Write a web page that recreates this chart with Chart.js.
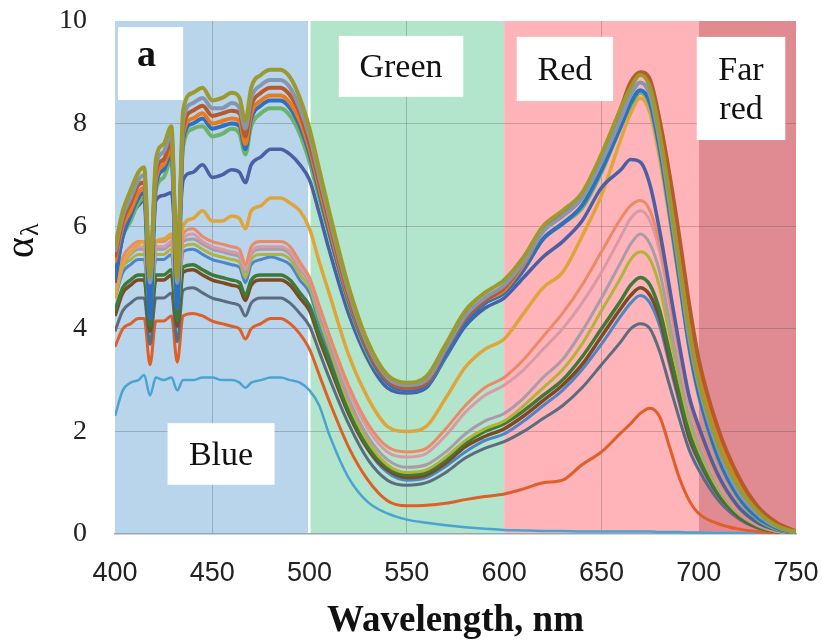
<!DOCTYPE html>
<html lang="en">
<head>
<meta charset="UTF-8">
<title>Spectral absorption</title>
<script src="https://cdn.jsdelivr.net/npm/chart.js"></script>
<style>
  body { margin: 0; background: #fff; }
  canvas { display: block; }
</style>
</head>
<body>
<canvas id="myChart" width="822" height="644"></canvas>
<script>
// wavelength grid (nm) shared by all curves
const wavelengths = [400, 404, 408, 412, 415, 418, 421, 425, 429, 432,
  435, 440, 445, 450, 455, 460, 464, 467, 470, 475,
  480, 485, 490, 495, 500, 505, 510, 520, 530, 540,
  550, 560, 570, 580, 590, 600, 610, 620, 630, 640,
  650, 660, 665, 670, 675, 680, 685, 690, 695, 700,
  710, 720, 730, 740, 750];

// alpha_lambda curves
const curve01 = [5.6, 6.3, 6.7, 7.05, 7.15, 5.0, 7.3, 7.6, 7.95, 5.0, 8.25, 8.6, 8.7, 8.45, 8.5, 8.6, 8.5, 8.05, 8.7, 8.95, 9.05, 9.05, 8.9, 8.5, 7.9, 7.1, 6.3, 4.83, 3.74, 3.1, 2.95, 3.07, 3.7, 4.35, 4.7, 4.95, 5.4, 6.0, 6.3, 6.65, 7.4, 8.3, 8.7, 8.95, 8.7, 7.8, 6.6, 5.3, 4.0, 3.0, 1.75, 0.95, 0.45, 0.16, 0.04];
const curve02 = [5.5, 6.2, 6.55, 6.9, 7.0, 4.9, 7.15, 7.45, 7.8, 4.9, 8.05, 8.4, 8.5, 8.3, 8.3, 8.4, 8.3, 7.9, 8.5, 8.75, 8.85, 8.85, 8.7, 8.3, 7.75, 6.97, 6.2, 4.74, 3.67, 3.05, 2.9, 3.0, 3.62, 4.25, 4.6, 4.85, 5.3, 5.9, 6.2, 6.55, 7.25, 8.1, 8.55, 8.8, 8.55, 7.65, 6.45, 5.15, 3.85, 2.9, 1.65, 0.85, 0.4, 0.14, 0.03];
const curve03 = [5.4, 6.1, 6.45, 6.8, 6.85, 5.1, 7.05, 7.3, 7.65, 5.2, 7.9, 8.25, 8.35, 8.15, 8.2, 8.25, 8.2, 7.75, 8.35, 8.6, 8.7, 8.7, 8.55, 8.2, 7.6, 6.85, 6.1, 4.65, 3.6, 3.0, 2.85, 2.95, 3.6, 4.2, 4.55, 4.8, 5.3, 5.95, 6.25, 6.6, 7.35, 8.3, 8.8, 9.0, 8.85, 8.05, 7.0, 5.8, 4.5, 3.4, 2.05, 1.15, 0.55, 0.22, 0.05];
const curve04 = [5.3, 6.0, 6.3, 6.65, 6.75, 5.0, 6.9, 7.2, 7.5, 5.1, 7.8, 8.1, 8.2, 8.0, 8.05, 8.1, 8.05, 7.6, 8.2, 8.45, 8.55, 8.55, 8.4, 8.05, 7.5, 6.75, 6.0, 4.6, 3.6, 3.0, 2.85, 2.95, 3.6, 4.2, 4.55, 4.75, 5.25, 5.9, 6.2, 6.55, 7.3, 8.2, 8.7, 8.95, 8.8, 8.0, 6.95, 5.7, 4.4, 3.3, 1.95, 1.05, 0.5, 0.2, 0.05];
const curve05 = [5.0, 5.8, 6.2, 6.55, 6.65, 4.2, 6.8, 7.1, 7.4, 4.4, 7.7, 8.0, 8.1, 7.9, 7.95, 8.0, 7.95, 7.5, 8.1, 8.35, 8.45, 8.45, 8.3, 7.95, 7.4, 6.65, 5.9, 4.55, 3.55, 2.95, 2.8, 2.9, 3.5, 4.1, 4.5, 4.7, 5.15, 5.75, 6.05, 6.4, 7.1, 7.95, 8.4, 8.65, 8.4, 7.5, 6.3, 5.0, 3.7, 2.75, 1.5, 0.75, 0.33, 0.12, 0.03];
const curve06 = [5.1, 5.8, 6.1, 6.45, 6.55, 5.0, 6.7, 6.95, 7.3, 5.5, 7.55, 7.9, 7.95, 7.75, 7.8, 7.9, 7.8, 7.4, 7.95, 8.2, 8.3, 8.3, 8.15, 7.8, 7.25, 6.55, 5.85, 4.5, 3.5, 2.95, 2.8, 2.9, 3.5, 4.15, 4.5, 4.7, 5.15, 5.75, 6.05, 6.35, 7.05, 7.95, 8.35, 8.6, 8.35, 7.45, 6.25, 4.95, 3.65, 2.7, 1.45, 0.72, 0.3, 0.1, 0.02];
const curve07 = [4.9, 5.8, 6.2, 6.4, 6.5, 5.0, 6.5, 6.6, 6.65, 5.5, 6.9, 7.05, 7.2, 6.95, 7.0, 7.1, 7.05, 6.85, 7.2, 7.35, 7.5, 7.5, 7.4, 7.2, 6.9, 6.25, 5.55, 4.3, 3.4, 2.85, 2.75, 2.85, 3.45, 4.05, 4.4, 4.6, 5.0, 5.4, 5.7, 6.1, 6.75, 7.1, 7.3, 7.25, 6.8, 5.9, 4.8, 3.7, 2.7, 2.1, 1.15, 0.55, 0.23, 0.08, 0.01];
const curve08 = [4.6, 5.25, 5.5, 5.65, 5.7, 4.45, 5.7, 5.75, 5.85, 4.8, 6.0, 6.15, 6.3, 6.1, 6.1, 6.2, 6.15, 5.95, 6.3, 6.4, 6.55, 6.55, 6.45, 6.3, 5.95, 5.3, 4.7, 3.5, 2.65, 2.1, 2.0, 2.1, 2.65, 3.25, 3.6, 3.8, 4.3, 4.8, 5.1, 5.8, 6.6, 7.7, 8.2, 8.5, 8.2, 7.3, 6.15, 4.9, 3.75, 2.8, 1.6, 0.85, 0.4, 0.15, 0.03];
const curve09 = [4.9, 5.4, 5.6, 5.7, 5.7, 4.55, 5.7, 5.7, 5.8, 4.65, 5.85, 5.95, 5.8, 5.7, 5.65, 5.6, 5.55, 5.25, 5.6, 5.7, 5.7, 5.7, 5.6, 5.3, 5.0, 4.45, 3.9, 2.9, 2.15, 1.7, 1.6, 1.67, 2.05, 2.5, 2.85, 3.05, 3.4, 3.85, 4.3, 4.85, 5.5, 6.15, 6.4, 6.5, 6.3, 5.65, 4.6, 3.55, 2.6, 1.95, 1.05, 0.5, 0.2, 0.07, 0.01];
const curve10 = [4.8, 5.3, 5.5, 5.6, 5.6, 4.5, 5.6, 5.6, 5.7, 4.6, 5.75, 5.85, 5.7, 5.6, 5.55, 5.5, 5.45, 5.15, 5.5, 5.6, 5.6, 5.6, 5.5, 5.2, 4.95, 4.4, 3.85, 2.8, 2.05, 1.6, 1.5, 1.57, 1.92, 2.37, 2.7, 2.9, 3.2, 3.6, 4.0, 4.5, 5.1, 5.8, 6.15, 6.3, 6.1, 5.5, 4.5, 3.45, 2.5, 1.9, 1.0, 0.47, 0.19, 0.06, 0.01];
const curve11 = [4.75, 5.25, 5.45, 5.55, 5.55, 4.45, 5.55, 5.55, 5.65, 4.55, 5.7, 5.75, 5.65, 5.55, 5.5, 5.45, 5.4, 5.1, 5.45, 5.55, 5.55, 5.55, 5.45, 5.15, 4.9, 4.3, 3.75, 2.65, 1.9, 1.45, 1.3, 1.35, 1.6, 1.95, 2.2, 2.35, 2.65, 3.05, 3.4, 3.95, 4.6, 5.3, 5.65, 5.85, 5.65, 5.1, 4.15, 3.2, 2.35, 1.75, 0.94, 0.44, 0.18, 0.06, 0.01];
const curve12 = [4.7, 5.2, 5.35, 5.45, 5.45, 4.35, 5.45, 5.45, 5.55, 4.45, 5.6, 5.65, 5.55, 5.45, 5.4, 5.35, 5.3, 5.0, 5.35, 5.45, 5.45, 5.45, 5.35, 5.05, 4.8, 4.2, 3.65, 2.55, 1.8, 1.35, 1.2, 1.25, 1.5, 1.82, 2.05, 2.2, 2.5, 2.85, 3.2, 3.7, 4.35, 5.0, 5.35, 5.5, 5.35, 4.8, 3.9, 3.0, 2.2, 1.65, 0.88, 0.41, 0.17, 0.05, 0.01];
const curve13 = [4.35, 4.8, 4.95, 5.05, 5.05, 4.05, 5.05, 5.05, 5.15, 4.15, 5.2, 5.25, 5.15, 5.05, 5.0, 4.95, 4.9, 4.65, 4.95, 5.05, 5.05, 5.05, 4.95, 4.7, 4.45, 3.9, 3.4, 2.4, 1.7, 1.3, 1.15, 1.2, 1.45, 1.77, 2.0, 2.15, 2.4, 2.7, 3.0, 3.45, 4.0, 4.55, 4.85, 5.0, 4.85, 4.35, 3.55, 2.75, 2.0, 1.5, 0.8, 0.38, 0.15, 0.05, 0.01];
const curve14 = [4.25, 4.7, 4.85, 4.95, 4.95, 3.95, 4.95, 4.95, 5.05, 4.05, 5.1, 5.15, 5.05, 4.95, 4.9, 4.85, 4.8, 4.55, 4.85, 4.95, 4.95, 4.95, 4.85, 4.6, 4.35, 3.8, 3.3, 2.35, 1.65, 1.25, 1.1, 1.15, 1.38, 1.7, 1.9, 2.05, 2.3, 2.6, 2.9, 3.3, 3.85, 4.4, 4.65, 4.8, 4.65, 4.2, 3.4, 2.65, 1.9, 1.45, 0.77, 0.36, 0.14, 0.05, 0.01];
const curve15 = [4.6, 5.1, 5.25, 5.35, 5.35, 4.3, 5.35, 5.35, 5.45, 4.4, 5.5, 5.55, 5.45, 5.35, 5.3, 5.25, 5.2, 4.9, 5.25, 5.35, 5.4, 5.35, 5.25, 4.95, 4.7, 4.1, 3.55, 2.45, 1.65, 1.2, 1.05, 1.1, 1.32, 1.6, 1.82, 1.95, 2.2, 2.5, 2.8, 3.2, 3.7, 4.25, 4.5, 4.65, 4.5, 4.05, 3.3, 2.55, 1.85, 1.4, 0.74, 0.35, 0.14, 0.05, 0.01];
const curve16 = [3.95, 4.35, 4.5, 4.6, 4.6, 3.7, 4.6, 4.6, 4.7, 3.75, 4.75, 4.8, 4.7, 4.6, 4.55, 4.5, 4.45, 4.25, 4.5, 4.6, 4.6, 4.6, 4.5, 4.3, 4.05, 3.55, 3.05, 2.15, 1.45, 1.05, 0.95, 1.0, 1.2, 1.48, 1.67, 1.8, 2.0, 2.25, 2.5, 2.85, 3.3, 3.75, 4.0, 4.1, 4.0, 3.55, 2.9, 2.25, 1.65, 1.25, 0.66, 0.31, 0.12, 0.04, 0.01];
const curve17 = [3.65, 4.0, 4.1, 4.2, 4.2, 3.3, 4.15, 4.15, 4.25, 3.35, 4.25, 4.3, 4.25, 4.15, 4.1, 4.05, 4.0, 3.8, 4.0, 4.1, 4.2, 4.2, 4.1, 3.9, 3.6, 3.1, 2.6, 1.7, 1.05, 0.65, 0.55, 0.56, 0.6, 0.67, 0.73, 0.78, 0.88, 1.0, 1.05, 1.35, 1.6, 1.97, 2.15, 2.35, 2.45, 2.28, 1.7, 1.1, 0.66, 0.4, 0.2, 0.1, 0.05, 0.02, 0.01];
const curve18 = [2.3, 2.8, 2.95, 3.0, 3.1, 2.7, 3.05, 3.0, 3.05, 2.8, 3.0, 3.0, 3.05, 3.05, 3.0, 3.0, 2.95, 2.85, 2.95, 3.0, 3.05, 3.05, 3.0, 2.95, 2.8, 2.5, 1.95, 1.1, 0.62, 0.4, 0.28, 0.22, 0.17, 0.13, 0.1, 0.08, 0.07, 0.06, 0.06, 0.05, 0.05, 0.05, 0.05, 0.05, 0.05, 0.04, 0.04, 0.04, 0.03, 0.03, 0.02, 0.02, 0.01, 0.01, 0.0];

const curves = [curve01, curve02, curve03, curve04, curve05, curve06, curve07, curve08, curve09,
  curve10, curve11, curve12, curve13, curve14, curve15, curve16, curve17, curve18];
const curveColors = ['#9c9a2e', '#8796b0', '#b65a2c', '#eb7a1e', '#2d6fc0', '#6db36a', '#4a5fa6', '#e0a53a', '#ea8a66',
  '#d99aa8', '#a99ba8', '#b0b43a', '#3d7a38', '#7b4b24', '#4c86c8', '#5b6c7e', '#de5f28', '#4aa3d0'];
const curveWidths = [4, 4, 4, 4, 4, 4, 3.5, 3.5, 3, 3, 3, 3, 3.5, 3.5, 3, 3, 3, 2.5];

// spectral bands (nm)
const bandStarts = [400, 500, 600, 700];
const bandEnds = [500, 600, 700, 750];
const bandColors = ['#b8d5ec', '#b3e5cc', '#ffb4ba', '#e08b91'];

// white label boxes, in axis units
const labelBoxes = [
  { lines: ['a'], x0: 401.5, x1: 435, y0: 9.88, y1: 8.46, bold: true, dx: -4, dy: -9 },
  { lines: ['Green'], x0: 515, x1: 579, y0: 9.71, y1: 8.52 },
  { lines: ['Red'], x0: 606.5, x1: 656, y0: 9.69, y1: 8.44 },
  { lines: ['Far', 'red'], x0: 699, x1: 744.5, y0: 9.69, y1: 7.68 },
  { lines: ['Blue'], x0: 427, x1: 482, y0: 2.16, y1: 0.96 }
];

const bandPlugin = {
  id: 'bands',
  beforeDraw(chart) {
    const { ctx, chartArea: area, scales: { x } } = chart;
    ctx.save();
    for (let i = 0; i < bandStarts.length; i++) {
      const x0 = x.getPixelForValue(bandStarts[i]);
      const x1 = x.getPixelForValue(bandEnds[i]);
      ctx.fillStyle = bandColors[i];
      ctx.fillRect(x0, area.top, x1 - x0, area.bottom - area.top);
    }
    // thin white gap between blue and green
    ctx.fillStyle = '#ffffff';
    ctx.fillRect(x.getPixelForValue(500) - 1.5, area.top, 2.5, area.bottom - area.top);
    ctx.restore();
  },
  afterDatasetsDraw(chart) {
    const { ctx, scales: { x, y } } = chart;
    ctx.save();
    labelBoxes.forEach(b => {
      const px0 = x.getPixelForValue(b.x0), px1 = x.getPixelForValue(b.x1);
      const py0 = y.getPixelForValue(b.y0), py1 = y.getPixelForValue(b.y1);
      ctx.fillStyle = '#ffffff';
      ctx.fillRect(px0, py0, px1 - px0, py1 - py0);
      ctx.fillStyle = '#111';
      ctx.textAlign = 'center';
      ctx.textBaseline = 'alphabetic';
      ctx.font = (b.bold ? 'bold 38px' : '34px') + ' "Liberation Serif", "Times New Roman", serif';
      const cx = (px0 + px1) / 2 + (b.dx || 0);
      const cy = (py0 + py1) / 2 + (b.dy || 0);
      const n = b.lines.length;
      b.lines.forEach((t, i) => {
        ctx.fillText(t, cx, cy + 11 + (i - (n - 1) / 2) * 39);
      });
    });
    ctx.restore();
  },
  afterDraw(chart) {
    // y axis title: alpha with subscript lambda
    const { ctx } = chart;
    ctx.save();
    ctx.translate(33, 258);
    ctx.rotate(-Math.PI / 2);
    ctx.fillStyle = '#111';
    ctx.textAlign = 'left';
    ctx.textBaseline = 'alphabetic';
    ctx.font = '40px "Liberation Serif", "Times New Roman", serif';
    ctx.fillText('α', 0, 0);
    const w = ctx.measureText('α').width;
    ctx.font = '26px "Liberation Serif", "Times New Roman", serif';
    ctx.fillText('λ', w + 1, 5);
    ctx.restore();
  }
};

const datasets = curves.map((c, k) => ({
  data: wavelengths.map((w, i) => ({ x: w, y: c[i] })),
  borderColor: curveColors[k],
  borderWidth: curveWidths[k],
  pointRadius: 0,
  fill: false,
  cubicInterpolationMode: 'monotone'
}));

const innerGrid = 'rgba(70, 70, 70, 0.28)';

new Chart(document.getElementById('myChart').getContext('2d'), {
  type: 'line',
  data: { datasets },
  plugins: [bandPlugin],
  options: {
    responsive: false,
    animation: false,
    layout: { padding: { left: 0, top: 21, right: 26, bottom: 0 } },
    plugins: { legend: { display: false }, tooltip: { enabled: false } },
    scales: {
      x: {
        type: 'linear',
        min: 400,
        max: 750,
        afterFit: s => { s.height = 110; s.paddingLeft = 0; s.paddingRight = 0; },
        ticks: {
          stepSize: 50,
          padding: 23,
          color: '#222',
          font: { family: '"Liberation Sans", Arial, sans-serif', size: 27 }
        },
        grid: {
          drawTicks: false,
          color: c => ([450, 550, 650].includes(c.tick.value) ? innerGrid : 'rgba(0,0,0,0)')
        },
        border: { display: true, color: '#97a6b6', width: 1.5 },
        title: {
          display: true,
          text: 'Wavelength, nm',
          color: '#111',
          padding: { top: 0, bottom: 0 },
          font: { family: '"Liberation Serif", "Times New Roman", serif', size: 37, weight: 'bold' }
        }
      },
      y: {
        min: 0,
        max: 10,
        afterFit: s => { s.width = 115; s.paddingTop = 0; s.paddingBottom = 0; },
        ticks: {
          stepSize: 2,
          padding: 28,
          color: '#222',
          font: { family: '"Liberation Serif", "Times New Roman", serif', size: 28 }
        },
        grid: {
          drawTicks: false,
          color: c => (c.tick.value > 0 && c.tick.value < 10 ? innerGrid : 'rgba(0,0,0,0)')
        },
        border: { display: false }
      }
    }
  }
});
</script>
</body>
</html>
